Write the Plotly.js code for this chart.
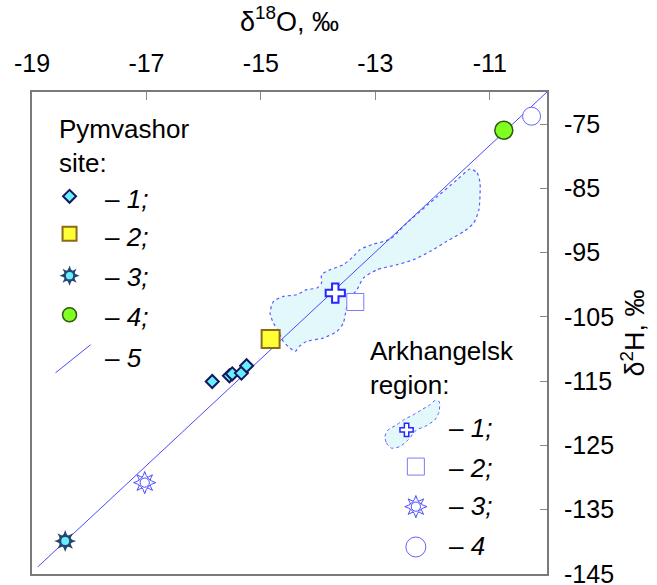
<!DOCTYPE html>
<html><head><meta charset="utf-8">
<script src="https://cdn.plot.ly/plotly-3.0.1.min.js"></script>
<style>html,body{margin:0;padding:0;background:#fff}</style>
</head><body><div id="chart" style="width:657px;height:585px"></div>
<script>
// ---------------- data ----------------
const xTickVals = [-19, -17, -15, -13, -11];
const xTickText = ['-19', '-17', '-15', '-13', '-11'];
const yTickVals = [-75, -85, -95, -105, -115, -125, -135, -145];
const yTickText = ['-75', '-85', '-95', '-105', '-115', '-125', '-135', '-145'];

// Pymvashor site
const pymv1X = [-15.85, -15.55, -15.50, -15.34, -15.25];
const pymv1Y = [-115.05, -114.16, -113.85, -113.74, -112.6];
const pymv2X = [-14.83];  const pymv2Y = [-108.44];
const pymv3X = [-18.42];  const pymv3Y = [-139.86];
const pymv4X = [-10.755]; const pymv4Y = [-75.95];
const line5X = [-18.90, -10.0]; const line5Y = [-143.9, -70.0];

// Arkhangelsk region
const arkh1AreaX = [-11.34,-11.22,-11.17,-11.19,-11.28,-11.45,-11.75,-12.04,-12.33,-12.62,-12.97,-13.21,-13.32,-13.47,-13.51,-13.56,-13.67,-13.91,-14.20,-14.33,-14.40,-14.49,-14.61,-14.69,-14.78,-14.84,-14.78,-14.61,-14.37,-14.20,-14.02,-13.94,-13.94,-13.79,-13.56,-13.38,-13.27,-13.06,-12.74,-12.45,-11.98,-11.57,-11.34];
const arkh1AreaY = [-81.97,-82.59,-84.15,-88.30,-90.38,-91.68,-93.23,-94.79,-96.09,-96.87,-97.65,-98.95,-100.76,-102.32,-103.88,-105.96,-107.25,-108.29,-108.81,-109.59,-110.37,-109.85,-108.81,-107.25,-105.96,-104.40,-102.58,-101.80,-101.54,-100.76,-100.50,-99.72,-98.43,-97.65,-96.87,-95.57,-94.53,-93.75,-92.87,-90.38,-86.74,-83.63,-81.97];
const arkh1X = [-13.70]; const arkh1Y = [-101.28];
const arkh2X = [-13.35]; const arkh2Y = [-102.68];
const arkh3X = [-17.03]; const arkh3Y = [-130.78];
const arkh4X = [-10.27]; const arkh4Y = [-73.77];

// ---------------- styling / layout helpers ----------------
const FONT = '"Liberation Sans", Arial, Helvetica, sans-serif';
const BLUE = '#4a4aff';
const C = {
  diaFill: '#66f0ff', diaLine: '#16165c',
  sqFill: '#ffff33', sqLine: '#8a6a1c',
  sunDark: '#274672', sunCore: '#66f0ff',
  cirFill: '#80ff20', cirLine: '#2d5a12',
  areaFill: '#e3f8fb', areaLine: '#5a5aff',
  cross: '#2626ff', openSq: '#7a7aff', openSun: '#4a4aff', openCir: '#6464ff'
};

function sun(x, y, xa, ya, s, filled) {
  const base = {type:'scatter', mode:'markers', x:x, y:y, xaxis:xa, yaxis:ya, hoverinfo:'skip', cliponaxis:false, showlegend:false};
  if (filled) {
    return [
      Object.assign({}, base, {marker:{symbol:'star-square', size:s*0.64, color:C.sunDark, line:{width:0}}}),
      Object.assign({}, base, {marker:{symbol:'star-diamond', size:s*0.72, color:C.sunDark, line:{width:0}}}),
      Object.assign({}, base, {marker:{symbol:'circle', size:s*0.36, color:C.sunCore, line:{width:0}}})
    ];
  }
  return [
    Object.assign({}, base, {marker:{symbol:'star-square', size:s*0.64, color:'#fff', line:{width:1, color:C.openSun}}}),
    Object.assign({}, base, {marker:{symbol:'star-diamond', size:s*0.72, color:'#fff', line:{width:1, color:C.openSun}}}),
    Object.assign({}, base, {marker:{symbol:'circle', size:s*0.42, color:'#fff', line:{width:1, color:C.openSun}}})
  ];
}
function mk(x, y, xa, ya, marker) {
  return {type:'scatter', mode:'markers', x:x, y:y, xaxis:xa, yaxis:ya, marker:marker, hoverinfo:'skip', cliponaxis:false, showlegend:false};
}

const traces = [];
// area of Arkhangelsk region
traces.push({type:'scatter', mode:'lines', x:arkh1AreaX, y:arkh1AreaY, fill:'toself', fillcolor:C.areaFill,
  line:{color:C.areaLine, width:1.2, dash:'dot', shape:'spline', smoothing:0.6}, hoverinfo:'skip', showlegend:false});
// line 5
traces.push({type:'scatter', mode:'lines', x:line5X, y:line5Y, line:{color:BLUE, width:1}, hoverinfo:'skip', showlegend:false});
// Arkhangelsk markers
traces.push(mk(arkh1X, arkh1Y, 'x', 'y', {symbol:'cross', size:16, color:'#fff', line:{width:2, color:C.cross}}));
traces.push(mk(arkh2X, arkh2Y, 'x', 'y', {symbol:'square', size:17, color:'#fff', line:{width:1, color:C.openSq}}));
sun(arkh3X, arkh3Y, 'x', 'y', 22, false).forEach(t => traces.push(t));
traces.push(mk(arkh4X, arkh4Y, 'x', 'y', {symbol:'circle', size:18, color:'#fff', line:{width:1, color:C.openCir}}));
// Pymvashor markers
traces.push(mk(pymv1X, pymv1Y, 'x', 'y', {symbol:'diamond', size:10, color:C.diaFill, line:{width:2, color:C.diaLine}}));
traces.push(mk(pymv2X, pymv2Y, 'x', 'y', {symbol:'square', size:18, color:C.sqFill, line:{width:2, color:C.sqLine}}));
sun(pymv3X, pymv3Y, 'x', 'y', 22, true).forEach(t => traces.push(t));
traces.push(mk(pymv4X, pymv4Y, 'x', 'y', {symbol:'circle', size:18, color:C.cirFill, line:{width:1.5, color:C.cirLine}}));

// ---------------- legends (pixel positions on overlay axes) ----------------
const legP = {markX:70, textX:103, markY:[196.7, 234, 276, 315], textY:[199, 237, 277.5, 317.5, 358]};
const legA = {markX:416, textX:447, textY:[428, 468, 506.5, 546.5]};
const legAreaPx = [[385,436.7],[386.7,443.3],[391.7,448.3],[400,446.7],[408.3,440],[416.7,430],[425,426.7],[435,420],[439.3,411.7],[439.3,401.7],[435,400.7],[430,405],[421.7,410],[413.3,415],[405,419.3],[396.7,425],[388.3,430],[385,436.7]];

traces.push(mk([legP.markX], [legP.markY[0]], 'x2', 'y2', {symbol:'diamond', size:10, color:C.diaFill, line:{width:2, color:C.diaLine}}));
traces.push(mk([legP.markX], [legP.markY[1]], 'x2', 'y2', {symbol:'square', size:14, color:C.sqFill, line:{width:2, color:C.sqLine}}));
sun([legP.markX], [legP.markY[2]], 'x2', 'y2', 20, true).forEach(t => traces.push(t));
traces.push(mk([legP.markX], [legP.markY[3]], 'x2', 'y2', {symbol:'circle', size:14, color:C.cirFill, line:{width:1.5, color:C.cirLine}}));
traces.push({type:'scatter', mode:'lines', x:[56, 91], y:[373, 345], xaxis:'x2', yaxis:'y2', line:{color:BLUE, width:1}, hoverinfo:'skip', showlegend:false, cliponaxis:false});

traces.push({type:'scatter', mode:'lines', x:legAreaPx.map(p=>p[0]), y:legAreaPx.map(p=>p[1]), xaxis:'x2', yaxis:'y2', fill:'toself', fillcolor:C.areaFill,
  line:{color:C.areaLine, width:1, dash:'dot', shape:'spline', smoothing:0.6}, hoverinfo:'skip', showlegend:false});
traces.push(mk([406.7], [430], 'x2', 'y2', {symbol:'cross', size:11, color:'#fff', line:{width:1.5, color:C.cross}}));
traces.push(mk([legA.markX], [466.7], 'x2', 'y2', {symbol:'square', size:17, color:'#fff', line:{width:1, color:C.openSq}}));
sun([legA.markX], [506.7], 'x2', 'y2', 22, false).forEach(t => traces.push(t));
traces.push(mk([legA.markX], [547], 'x2', 'y2', {symbol:'circle', size:20, color:'#fff', line:{width:1, color:C.openCir}}));

const legFont = {family:FONT, size:26, color:'#000'};
const ann = [];
function txt(x, y, t, extra) {
  ann.push(Object.assign({xref:'x2', yref:'y2', x:x, y:y, text:t, showarrow:false, xanchor:'left', yanchor:'middle', align:'left', font:legFont}, extra||{}));
}
txt(57, 146, 'Pymvashor<br>site:');
const pLabels = ['– <i>1;</i>', '– <i>2;</i>', '– <i>3;</i>', '– <i>4;</i>', '– <i>5</i>'];
pLabels.forEach((t, i) => txt(legP.textX, legP.textY[i], t));
txt(368, 368, 'Arkhangelsk<br>region:');
const aLabels = ['– <i>1;</i>', '– <i>2;</i>', '– <i>3;</i>', '– <i>4</i>'];
aLabels.forEach((t, i) => txt(legA.textX, legA.textY[i], t));

const layout = {
  width:657, height:585,
  margin:{l:32, r:110, t:92, b:11, pad:0},
  paper_bgcolor:'#fff', plot_bgcolor:'#fff',
  font:{family:FONT, color:'#000'},
  showlegend:false,
  xaxis:{side:'top', range:[-19, -10], tickmode:'array', tickvals:xTickVals, ticktext:xTickText,
    ticks:'inside', ticklen:8, tickwidth:1, tickcolor:'#888', ticklabelstandoff:8, ticklabeloverflow:'allow',
    showline:true, mirror:true, linecolor:'#7a7a7a', linewidth:2, showgrid:false, zeroline:false,
    tickfont:{family:FONT, size:25, color:'#000'},
    title:{text:'δ<sup>18</sup>O, ‰', font:{family:FONT, size:27, color:'#000'}, standoff:10}},
  yaxis:{side:'right', range:[-145, -70], tickmode:'array', tickvals:yTickVals, ticktext:yTickText,
    ticks:'inside', ticklen:7, tickwidth:1, tickcolor:'#888', ticklabelstandoff:10, ticklabeloverflow:'allow',
    showline:true, mirror:true, linecolor:'#7a7a7a', linewidth:2, showgrid:false, zeroline:false,
    tickfont:{family:FONT, size:25, color:'#000'},
    title:{text:'δ<sup>2</sup>H, ‰', font:{family:FONT, size:27, color:'#000'}, standoff:12}},
  xaxis2:{overlaying:'x', anchor:'y2', range:[32.5, 547], visible:false, fixedrange:true},
  yaxis2:{overlaying:'y', anchor:'x2', range:[574, 92.5], visible:false, fixedrange:true},
  annotations:ann
};

Plotly.newPlot('chart', traces, layout, {staticPlot:true, displayModeBar:false});
</script>
</body></html>
